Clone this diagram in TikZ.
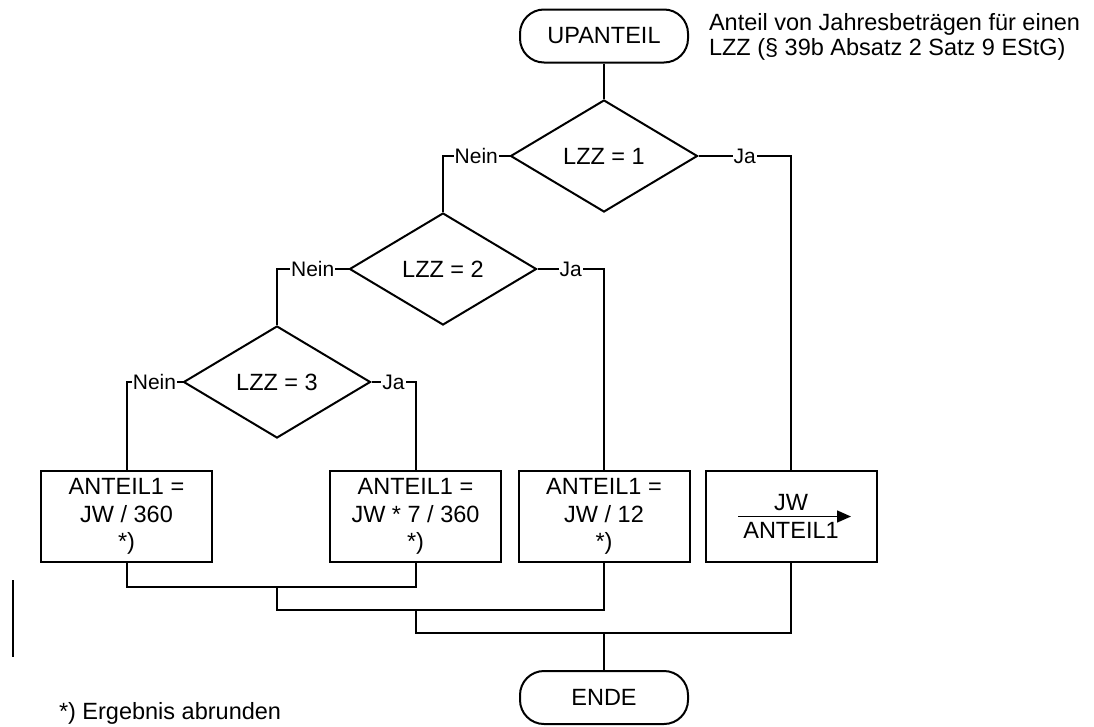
\documentclass[tikz,border=0pt]{standalone}
\usepackage{fontspec}
\setmainfont{Liberation Sans}
\usetikzlibrary{shapes.geometric,arrows.meta,calc}
\newcommand\dfont{\fontsize{23.5pt}{27.5pt}\selectfont}
\newcommand\lfont{\fontsize{21pt}{24pt}\selectfont}
\begin{document}
\begin{tikzpicture}[x=1pt,y=-1pt,
  line width=2pt,
  every node/.style={font=\dfont},
  term/.style={draw,rectangle,rounded corners=24pt,minimum width=168pt,minimum height=53pt,inner sep=0pt},
  dec/.style={draw,diamond,minimum width=187pt,minimum height=112pt,inner sep=0pt},
  box/.style={draw,rectangle,minimum width=171pt,minimum height=91pt,inner sep=0pt,align=center},
  lbl/.style={fill=white,inner sep=1pt,font=\lfont},
  txt/.style={inner sep=0pt,anchor=base west}
]
\useasboundingbox (0,0) rectangle (1094,726);

\node[term] (up) at (604,36) {UPANTEIL};
\node[txt] (note1) at (708,30) {Anteil von Jahresbeträgen für einen};
\node[txt] (note2) at (708,55) {LZZ (§ 39b Absatz 2 Satz 9 EStG)};

\node[dec] (d1) at (604,156) {LZZ = 1};
\node[dec] (d2) at (443,269) {LZZ = 2};
\node[dec] (d3) at (277,382) {LZZ = 3};

\node[box] (b1) at (126.5,516.5) {ANTEIL1 =\\JW / 360\\*)};
\node[box] (b2) at (415.5,516.5) {ANTEIL1 =\\JW * 7 / 360\\*)};
\node[box] (b3) at (604,516.5) {ANTEIL1 =\\JW / 12\\*)};
\node[box] (b4) at (791,516.5) {};
\node[inner sep=0pt] (jw) at ($(b4.center)+(0,-14)$) {JW};
\node[inner sep=0pt] (ant) at ($(b4.center)+(0,14)$) {ANTEIL1};
\draw[line width=1.5pt,-{Triangle[length=14pt,width=12pt]}] ($(b4.center)+(-53,0)$) -- ($(b4.center)+(60,0)$);

\node[term] (ende) at (604,697.5) {ENDE};

\node[txt] (foot) at (58,719) {*) Ergebnis abrunden};
\draw[line width=2.6pt] (13,580) -- (13,657);

\draw (up.south) -- (d1.north);
\draw (d1.west) -- node[lbl]{Nein} (d1.west -| d2.north) -- (d2.north);
\draw (d1.east) -- node[lbl]{Ja} (d1.east -| b4.north) -- (b4.north);
\draw (d2.west) -- node[lbl]{Nein} (d2.west -| d3.north) -- (d3.north);
\draw (d2.east) -- node[lbl]{Ja} (d2.east -| b3.north) -- (b3.north);
\draw (d3.west) -- node[lbl]{Nein} (d3.west -| b1.north) -- (b1.north);
\draw (d3.east) -- node[lbl]{Ja} (d3.east -| b2.north) -- (b2.north);

\coordinate (m1) at (277,587);
\coordinate (m2) at (415.5,610);
\coordinate (m3) at (604,633);
\draw (b1.south) |- (m1) -| (b2.south);
\draw (m1) |- (m2) -| (b3.south);
\draw (m2) |- (m3) -| (b4.south);
\draw (m3) -- (ende.north);
\end{tikzpicture}
\end{document}
